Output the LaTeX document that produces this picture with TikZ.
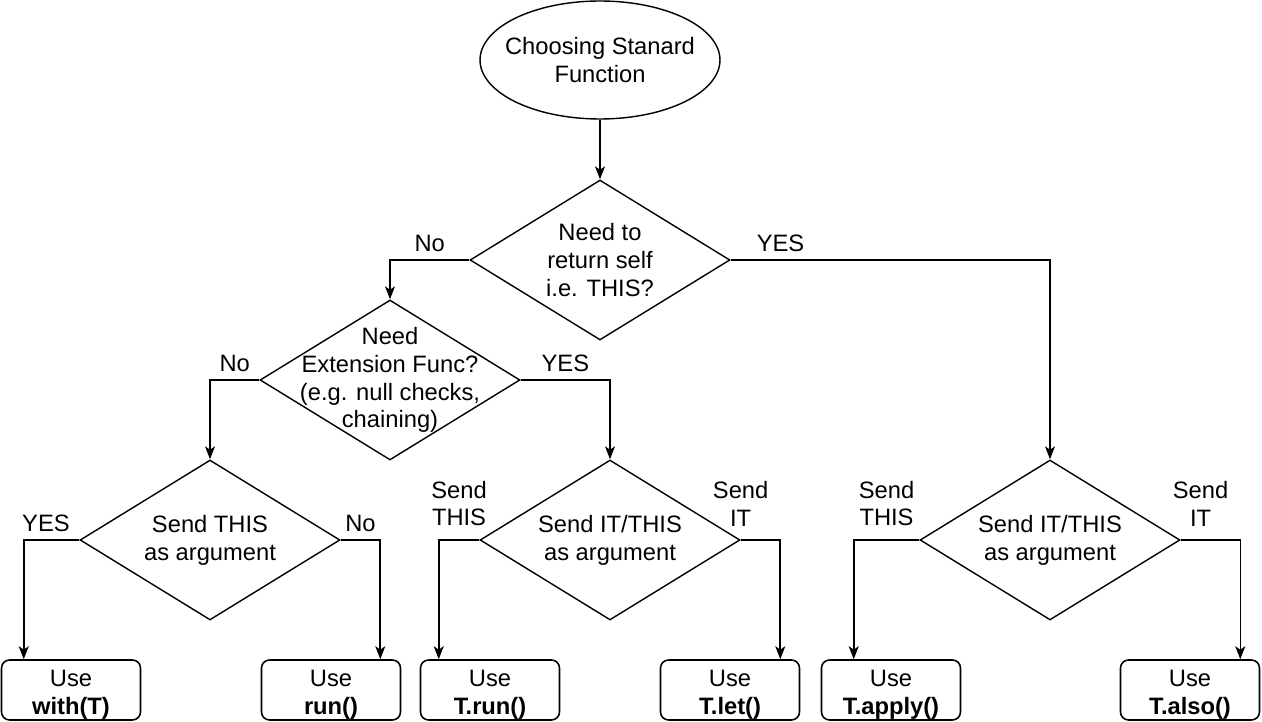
\documentclass[tikz,border=0pt]{standalone}
\usepackage{fontspec}
\setmainfont{Liberation Sans}
\usetikzlibrary{shapes.geometric,arrows.meta}

\begin{document}
\begin{tikzpicture}[x=0.02cm, y=-0.02cm,
    every node/.style={font=\fontsize{13.5}{15.8}\selectfont, align=center},
    decision/.style={diamond, draw, line width=0.8pt, minimum width=5.2cm, minimum height=3.2cm, inner sep=0pt},
    caja/.style={draw, rounded corners=0.16cm, line width=0.9pt, minimum width=2.78cm, minimum height=1.2cm},
    flecha/.style={-{Stealth[length=0.26cm, width=0.2cm, inset=0.07cm]}, line width=0.9pt},
    etiqueta/.style={above, inner sep=4pt},
    etiquetados/.style={above, inner sep=7.5pt}]
            \useasboundingbox (0,0) rectangle (1262,722);

            % Inicio
            \node[draw, ellipse, line width=0.8pt, inner sep=0pt, minimum width=4.8cm, minimum height=2.36cm,
                  label={center:{Choosing Stanard\\Function}}] (inicio) at (600,60) {};

            % Preguntas
            \node[decision, label={center:{Need to\\return self\\i.e. THIS?}}] (q1) at (600,260) {};
            \node[decision, label={center:{Need\\Extension Func?\\(e.g. null checks,\\chaining)}}] (q2) at (390,380) {};
            \node[decision, label={center:{Send THIS\\as argument}}] (q3) at (210,540) {};
            \node[decision, label={center:{Send IT/THIS\\as argument}}] (q4) at (610,540) {};
            \node[decision, label={center:{Send IT/THIS\\as argument}}] (q5) at (1050,540) {};

            % Resultados
            \node[caja, label={[yshift=-0.1cm]center:{Use\\\textbf{with(T)}}}] (with) at (71,690) {};
            \node[caja, label={[yshift=-0.1cm]center:{Use\\\textbf{run()}}}] (run) at (331,690) {};
            \node[caja, label={[yshift=-0.1cm]center:{Use\\\textbf{T.run()}}}] (trun) at (490,690) {};
            \node[caja, label={[yshift=-0.1cm]center:{Use\\\textbf{T.let()}}}] (let) at (730,690) {};
            \node[caja, label={[yshift=-0.1cm]center:{Use\\\textbf{T.apply()}}}] (apply) at (891,690) {};
            \node[caja, label={[yshift=-0.1cm]center:{Use\\\textbf{T.also()}}}] (also) at (1190,690) {};

            % Conexiones
            \draw[flecha] (inicio) -- (q1);
            \draw[flecha] (q1.west) -| node[etiqueta, pos=0.25] {No} (q2.north);
            \draw[flecha] (q1.east) -| node[etiqueta, pos=0.078] {YES} (q5.north);
            \draw[flecha] (q2.west) -| node[etiqueta, pos=0.25] {No} (q3.north);
            \draw[flecha] (q2.east) -| node[etiqueta, pos=0.25] {YES} (q4.north);
            \draw[flecha] (q3.west) -| node[etiqueta, pos=0.3] {YES} ([xshift=0.46cm]with.north west);
            \draw[flecha] (q3.east) -| node[etiqueta, pos=0.25] {No} ([xshift=-0.42cm]run.north east);
            \draw[flecha] (q4.west) -| node[etiquetados, pos=0.25] {Send\\THIS} ([xshift=0.38cm]trun.north west);
            \draw[flecha] (q4.east) -| node[etiquetados, pos=0] {Send\\IT} ([xshift=-0.4cm]let.north east);
            \draw[flecha] (q5.west) -| node[etiquetados, pos=0.25] {Send\\THIS} ([xshift=0.66cm]apply.north west);
            \draw[flecha] (q5.east) -| node[etiquetados, pos=0.167] {Send\\IT} ([xshift=-0.4cm]also.north east);
        \end{tikzpicture}
\end{document}
